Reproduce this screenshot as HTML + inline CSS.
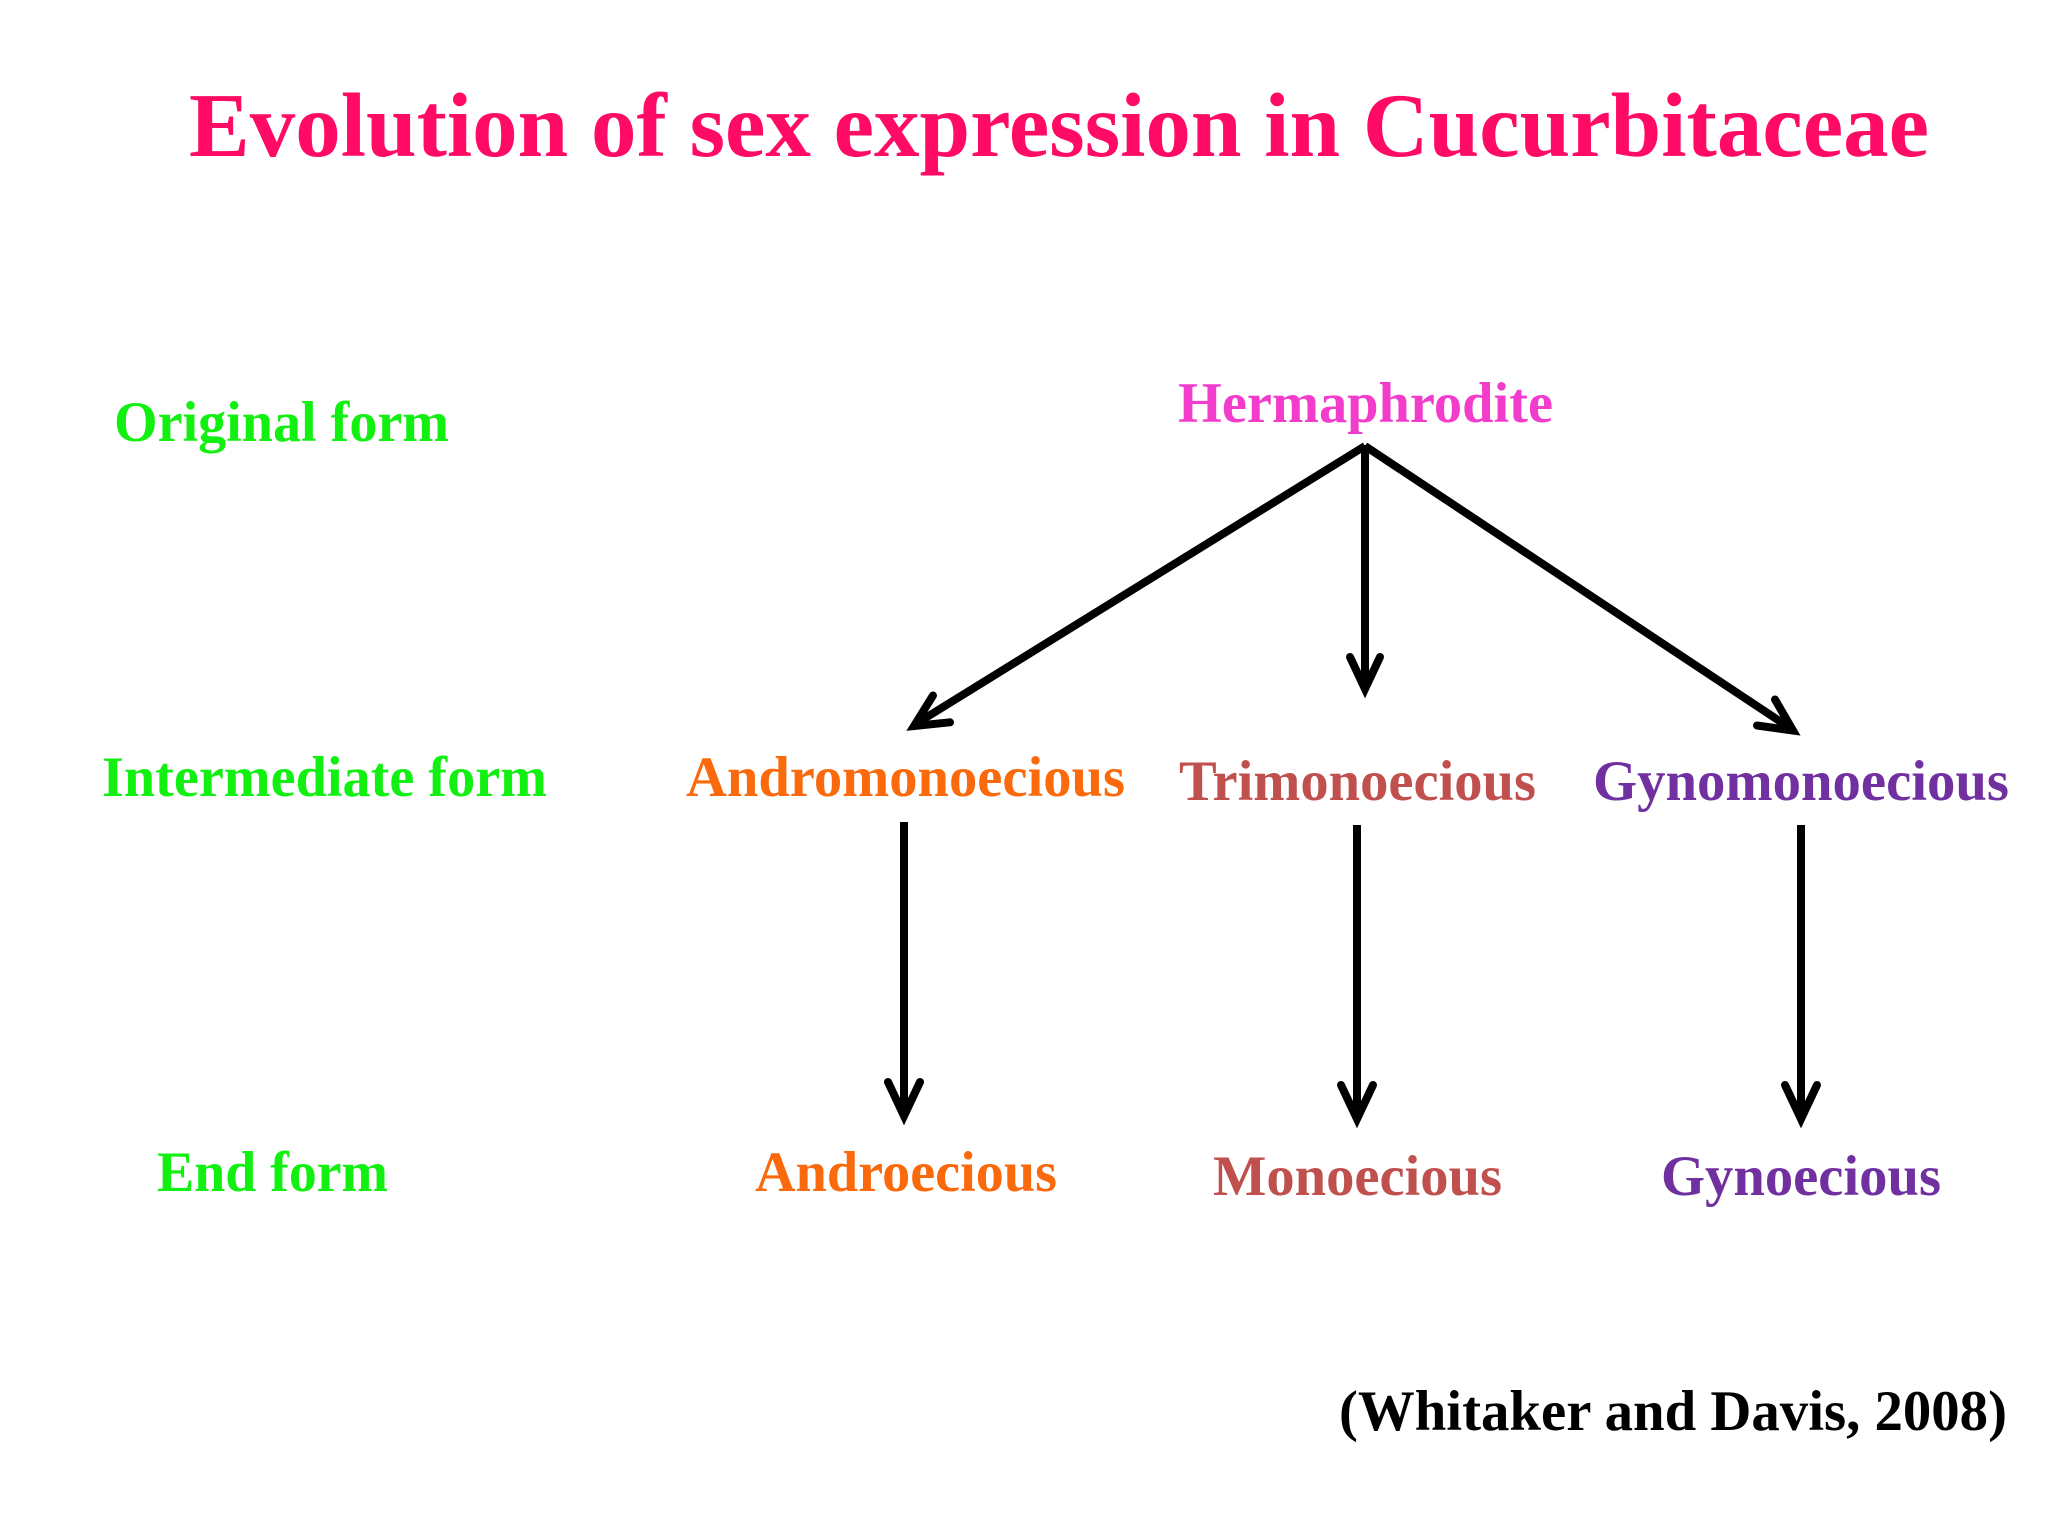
<!DOCTYPE html>
<html>
<head>
<meta charset="utf-8">
<style>
  html,body{margin:0;padding:0;background:#fff;}
  svg{display:block;}
  text{font-family:"Liberation Serif","Times New Roman",serif;font-weight:bold;}
</style>
</head>
<body>
<svg width="2048" height="1536" viewBox="0 0 2048 1536" xmlns="http://www.w3.org/2000/svg">
  <rect x="0" y="0" width="2048" height="1536" fill="#ffffff"/>

  <!-- Title -->
  <text x="189" y="156" font-size="91" fill="#ff0a64" textLength="1740" lengthAdjust="spacingAndGlyphs">Evolution of sex expression in Cucurbitaceae</text>

  <!-- Row labels -->
  <text x="114" y="441" font-size="57" fill="#12f012" textLength="335" lengthAdjust="spacingAndGlyphs">Original form</text>
  <text x="102" y="796" font-size="57" fill="#12f012" textLength="445" lengthAdjust="spacingAndGlyphs">Intermediate form</text>
  <text x="157" y="1191" font-size="57" fill="#12f012" textLength="231" lengthAdjust="spacingAndGlyphs">End form</text>

  <!-- Nodes -->
  <text x="1178" y="422" font-size="57" fill="#f23ccb" textLength="375" lengthAdjust="spacingAndGlyphs">Hermaphrodite</text>

  <text x="686" y="796" font-size="57" fill="#fa6a0c" textLength="439" lengthAdjust="spacingAndGlyphs">Andromonoecious</text>
  <text x="1179" y="800" font-size="57" fill="#c0504d" textLength="357" lengthAdjust="spacingAndGlyphs">Trimonoecious</text>
  <text x="1593" y="800" font-size="57" fill="#7030a0" textLength="416" lengthAdjust="spacingAndGlyphs">Gynomonoecious</text>

  <text x="755" y="1191" font-size="57" fill="#fa6a0c" textLength="302" lengthAdjust="spacingAndGlyphs">Androecious</text>
  <text x="1213" y="1195" font-size="57" fill="#c0504d" textLength="289" lengthAdjust="spacingAndGlyphs">Monoecious</text>
  <text x="1661" y="1195" font-size="57" fill="#7030a0" textLength="280" lengthAdjust="spacingAndGlyphs">Gynoecious</text>

  <!-- Citation -->
  <text x="1339" y="1430" font-size="57" fill="#000000" textLength="668" lengthAdjust="spacingAndGlyphs">(Whitaker and Davis, 2008)</text>

  <!-- Arrows -->
  <g stroke="#000" stroke-width="8" fill="none" stroke-linecap="butt">
    <!-- from Hermaphrodite -->
    <line x1="1365" y1="446" x2="914" y2="725"/>
    <line x1="1365" y1="445" x2="1365" y2="688"/>
    <line x1="1365" y1="446" x2="1793" y2="730"/>
    <!-- intermediate to end -->
    <line x1="904" y1="822" x2="904" y2="1115"/>
    <line x1="1357" y1="825" x2="1357" y2="1118"/>
    <line x1="1801" y1="825" x2="1801" y2="1118"/>
  </g>
  <g stroke="#000" stroke-width="8" fill="none" stroke-linecap="round" stroke-linejoin="miter" stroke-miterlimit="10">
    <polyline points="933,695.5 914,726 950,722.3"/>
    <polyline points="1350,657 1365,689 1380,657"/>
    <polyline points="1775,699.5 1793,730.5 1757,725.5"/>
    <polyline points="888,1082 904,1116 920,1082"/>
    <polyline points="1341,1085 1357,1119 1373,1085"/>
    <polyline points="1785,1085 1801,1119 1817,1085"/>
  </g>
</svg>
</body>
</html>
